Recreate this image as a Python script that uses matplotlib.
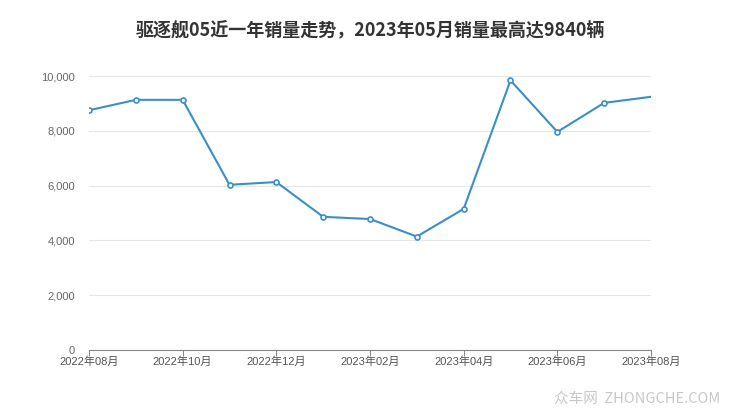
import matplotlib.pyplot as plt

plt.rcParams['font.family'] = ['Noto Sans CJK SC', 'DejaVu Sans']

months = ['2022年08月', '2022年09月', '2022年10月', '2022年11月', '2022年12月',
          '2023年01月', '2023年02月', '2023年03月', '2023年04月', '2023年05月',
          '2023年06月', '2023年07月', '2023年08月']
sales = [8750, 9130, 9130, 6030, 6130, 4860, 4780, 4140, 5150, 9840, 7960, 9020, 9240]
yticks = [0, 2000, 4000, 6000, 8000, 10000]

line_color = '#3a8fc6'
tick_family = ['Liberation Sans', 'Noto Sans CJK SC']

fig = plt.figure(figsize=(7.4, 4.17), dpi=100)
ax = fig.add_axes([89 / 740, 1 - 350 / 417, 562 / 740, 274 / 417])

x = list(range(len(months)))
ax.plot(x, sales, color=line_color, linewidth=1.5, zorder=3)
ax.plot(x[:-1], sales[:-1], linestyle='none', marker='o', markersize=3.6,
        markerfacecolor='white', markeredgecolor=line_color, markeredgewidth=1.2, zorder=4)

ax.set_xlim(0, len(months) - 1)
ax.set_ylim(0, 10000)
ax.set_yticks(yticks)
ax.set_yticklabels([f'{v:,}' for v in yticks], family=tick_family)
ax.set_xticks(x[::2])
ax.set_xticklabels(months[::2], family=tick_family)

ax.grid(axis='y', color='#e6e6e6', linewidth=0.8)
ax.set_axisbelow(True)
for side in ['top', 'right', 'left']:
    ax.spines[side].set_visible(False)
ax.spines['bottom'].set_color('#888888')
ax.tick_params(axis='y', length=0, pad=10, labelsize=8, labelcolor='#666666')
ax.tick_params(axis='x', length=4, color='#888888', pad=1, labelsize=8, labelcolor='#555555')

fig.text(0.5, 1 - 30 / 417, '驱逐舰05近一年销量走势，2023年05月销量最高达9840辆',
         ha='center', va='center', fontsize=13, fontweight='bold', color='#333333')
fig.text(720 / 740, 1 - 399 / 417, '众车网  ZHONGCHE.COM', ha='right', va='center',
         fontsize=10.5, color='#c8c8c8')

fig.savefig('out.png', dpi=100)
